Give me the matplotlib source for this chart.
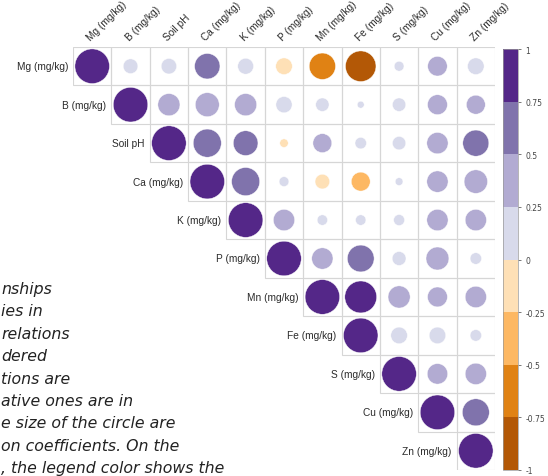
import numpy as np
import matplotlib
matplotlib.use("Agg")
import matplotlib.pyplot as plt
from matplotlib.colors import ListedColormap, BoundaryNorm
from matplotlib.patches import Circle, Rectangle
import matplotlib.cm as cm

## DATA ##
labels = ["Mg (mg/kg)", "B (mg/kg)", "Soil pH", "Ca (mg/kg)", "K (mg/kg)", "P (mg/kg)",
          "Mn (mg/kg)", "Fe (mg/kg)", "S (mg/kg)", "Cu (mg/kg)", "Zn (mg/kg)"]
# upper triangle, row i starts at column i (diagonal)
r_mg = [1, 0.18, 0.20, 0.54, 0.21, -0.23, -0.58, -0.78, 0.08, 0.32, 0.23]
r_b = [1, 0.41, 0.48, 0.41, 0.22, 0.15, 0.04, 0.15, 0.33, 0.30]
r_ph = [1, 0.66, 0.51, -0.06, 0.30, 0.11, 0.15, 0.38, 0.57]
r_ca = [1, 0.66, 0.08, -0.18, -0.30, 0.05, 0.38, 0.46]
r_k = [1, 0.38, 0.09, 0.09, 0.10, 0.38, 0.38]
r_p = [1, 0.38, 0.60, 0.16, 0.44, 0.11]
r_mn = [1, 0.85, 0.41, 0.33, 0.38]
r_fe = [1, 0.23, 0.23, 0.11]
r_s = [1, 0.35, 0.38]
r_cu = [1, 0.61]
r_zn = [1]
rows = [r_mg, r_b, r_ph, r_ca, r_k, r_p, r_mn, r_fe, r_s, r_cu, r_zn]

palette = ["#b35806", "#e08214", "#fdb863", "#fee0b6",
           "#d8daeb", "#b2abd2", "#8073ac", "#542788"]
bounds = np.linspace(-1, 1, 9)
cbar_ticks = [1, 0.75, 0.5, 0.25, 0, -0.25, -0.5, -0.75, -1]

caption = ["nships", "ies in", "relations", "dered", "tions are",
           "ative ones are in", "e size of the circle are",
           "on coefficients. On the", ", the legend color shows the"]

cmap = ListedColormap(palette)
norm = BoundaryNorm(bounds, cmap.N)
n = len(labels)

W, H = 548, 477
fig = plt.figure(figsize=(W / 100, H / 100), dpi=100)
ax = fig.add_axes([73 / W, (H - 471) / H, 422 / W, 423 / H])
ax.set_xlim(0, n)
ax.set_ylim(n, 0)
ax.axis("off")

txt_kw = dict(fontsize=7.3, color="#2b2b2b", family="Liberation Sans")
for i, row in enumerate(rows):
    for k, r in enumerate(row):
        j = i + k
        ax.add_patch(Rectangle((j, i), 1, 1, fill=False, edgecolor="#d6d6d6", lw=0.8))
        rad = 0.9 * np.sqrt(abs(r)) / 2
        ax.add_patch(Circle((j + 0.5, i + 0.5), rad, facecolor=cmap(norm(r)),
                            edgecolor="white", lw=0.3))
    ax.text(i - 0.13, i + 0.5, labels[i], ha="right", va="center", **txt_kw)
    ax.text(i + 0.5, -0.12, labels[i], ha="left", va="bottom", rotation=45,
            rotation_mode="anchor", **txt_kw)

# colorbar
cax = fig.add_axes([503 / W, (H - 471) / H, 15 / W, 421 / H])
sm = cm.ScalarMappable(norm=norm, cmap=cmap)
cb = fig.colorbar(sm, cax=cax, ticks=cbar_ticks, spacing="proportional")
cb.ax.set_yticklabels([("%g" % t) for t in cbar_ticks])
cb.ax.tick_params(labelsize=5.5, colors="#444444", length=2, width=0.5)
cb.outline.set_edgecolor("#999999")
cb.outline.set_linewidth(0.5)

# caption fragment on the left (cut off in the source)
for i, s in enumerate(caption):
    fig.text(1 / W, 1 - (294 + 22.4 * i) / H, s, ha="left", va="baseline",
             fontsize=11.3, style="italic", family="DejaVu Sans", color="#222222")

fig.savefig("out.png", dpi=100)
